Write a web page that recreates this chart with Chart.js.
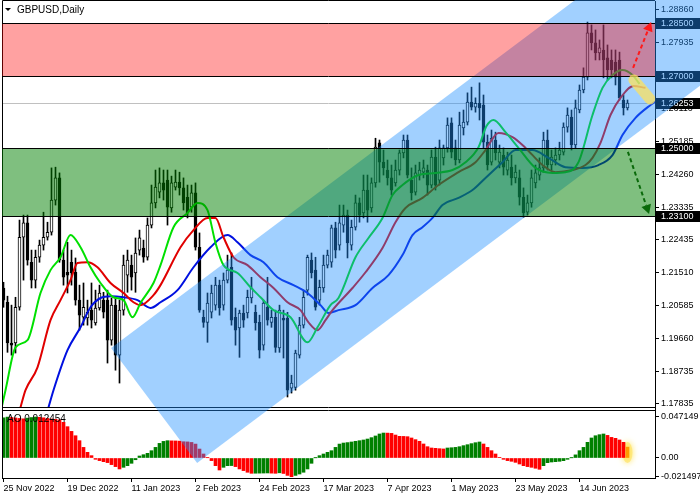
<html>
<head>
    <title>GBPUSD,Daily</title>
    <style>
        body {
            margin: 0;
            background: #fff;
        }
    </style>
    <script src="https://cdn.jsdelivr.net/npm/chart.js"></script>
</head>
<body>
    <canvas id="chart" width="700" height="500"></canvas>
    <script>
        // daily candles, 25 Nov 2022 .. 30 Jun 2023
        var opens = [
            1.2108, 1.2068, 1.1954, 1.1954, 1.2054, 1.2250, 1.2290, 1.2180, 1.2130, 1.2194,
            1.2228, 1.2250, 1.2264, 1.2354, 1.2416, 1.2186, 1.2152, 1.2180, 1.2152, 1.2074,
            1.2026, 1.2024, 1.2046, 1.2010, 1.2052, 1.2074, 1.2074, 1.1962, 1.2060, 1.1920,
            1.2046, 1.2144, 1.2172, 1.2150, 1.2214, 1.2220, 1.2194, 1.2284, 1.2346, 1.2376,
            1.2402, 1.2410, 1.2332, 1.2390, 1.2404, 1.2388, 1.2362, 1.2334, 1.2374, 1.2222,
            1.2026, 1.2012, 1.2040, 1.2060, 1.2116, 1.2060, 1.2130, 1.2166, 1.2026, 1.1996,
            1.2038, 1.2038, 1.2080, 1.2040, 1.2012, 1.1948, 1.2054, 1.2012, 1.2026, 1.1940,
            1.2024, 1.2024, 1.1828, 1.1830, 1.1920, 1.2004, 1.2102, 1.2186, 1.2158, 1.2074,
            1.2108, 1.2172, 1.2180, 1.2276, 1.2228, 1.2284, 1.2312, 1.2228, 1.2278, 1.2346,
            1.2318, 1.2382, 1.2332, 1.2402, 1.2514, 1.2460, 1.2438, 1.2416, 1.2402, 1.2438,
            1.2486, 1.2522, 1.2410, 1.2376, 1.2424, 1.2432, 1.2438, 1.2396, 1.2474, 1.2410,
            1.2472, 1.2500, 1.2570, 1.2500, 1.2466, 1.2556, 1.2572, 1.2628, 1.2614, 1.2625,
            1.2620, 1.2516, 1.2460, 1.2522, 1.2460, 1.2480, 1.2438, 1.2446, 1.2416, 1.2416,
            1.2362, 1.2320, 1.2346, 1.2402, 1.2424, 1.2444, 1.2522, 1.2452, 1.2466, 1.2480,
            1.2488, 1.2558, 1.2586, 1.2508, 1.2606, 1.2662, 1.2698, 1.2822, 1.2794, 1.2766,
            1.2774, 1.2752, 1.2746, 1.2740, 1.2746, 1.2634, 1.2612
        ];
        var highs = [
            1.2124, 1.2085, 1.2060, 1.2082, 1.2298, 1.2312, 1.2312, 1.2214, 1.2214, 1.2242,
            1.2320, 1.2292, 1.2444, 1.2446, 1.2430, 1.2214, 1.2236, 1.2214, 1.2192, 1.2116,
            1.2122, 1.2074, 1.2122, 1.2102, 1.2116, 1.2096, 1.2102, 1.2080, 1.2082, 1.2074,
            1.2200, 1.2214, 1.2200, 1.2248, 1.2270, 1.2242, 1.2304, 1.2396, 1.2438, 1.2444,
            1.2438, 1.2438, 1.2421, 1.2438, 1.2432, 1.2416, 1.2396, 1.2396, 1.2402, 1.2262,
            1.2046, 1.2094, 1.2116, 1.2138, 1.2130, 1.2150, 1.2200, 1.2206, 1.2052, 1.2046,
            1.2060, 1.2102, 1.2138, 1.2060, 1.2032, 1.2074, 1.2138, 1.2046, 1.2046, 1.2060,
            1.2046, 1.2040, 1.1864, 1.1934, 1.2026, 1.2102, 1.2200, 1.2206, 1.2194, 1.2130,
            1.2200, 1.2214, 1.2284, 1.2292, 1.2340, 1.2340, 1.2326, 1.2298, 1.2368, 1.2360,
            1.2424, 1.2424, 1.2416, 1.2527, 1.2522, 1.2494, 1.2466, 1.2452, 1.2466, 1.2494,
            1.2536, 1.2536, 1.2444, 1.2452, 1.2460, 1.2466, 1.2452, 1.2494, 1.2502, 1.2522,
            1.2508, 1.2584, 1.2584, 1.2522, 1.2600, 1.2606, 1.2654, 1.2670, 1.2640, 1.2682,
            1.2648, 1.2536, 1.2550, 1.2544, 1.2508, 1.2500, 1.2488, 1.2480, 1.2452, 1.2438,
            1.2388, 1.2368, 1.2438, 1.2452, 1.2472, 1.2544, 1.2550, 1.2494, 1.2500, 1.2516,
            1.2570, 1.2612, 1.2606, 1.2634, 1.2676, 1.2724, 1.2852, 1.2844, 1.2830, 1.2802,
            1.2844, 1.2788, 1.2774, 1.2774, 1.2768, 1.2648, 1.2634
        ];
        var lows = [
            1.2054, 1.1928, 1.1920, 1.1926, 1.2046, 1.2130, 1.2172, 1.2108, 1.2108, 1.2180,
            1.2214, 1.2242, 1.2256, 1.2340, 1.2180, 1.2116, 1.2094, 1.2116, 1.2060, 1.1990,
            1.2004, 1.2004, 1.1996, 1.2004, 1.2046, 1.2024, 1.1898, 1.1948, 1.1878, 1.1842,
            1.2032, 1.2096, 1.2102, 1.2096, 1.2200, 1.2180, 1.2186, 1.2276, 1.2332, 1.2360,
            1.2354, 1.2284, 1.2320, 1.2382, 1.2368, 1.2326, 1.2304, 1.2320, 1.2214, 1.2040,
            1.1998, 1.1956, 1.2024, 1.2046, 1.2032, 1.2046, 1.2122, 1.2004, 1.1948, 1.1914,
            1.1998, 1.2024, 1.2066, 1.1990, 1.1912, 1.1934, 1.2004, 1.1998, 1.1928, 1.1928,
            1.1912, 1.1803, 1.1814, 1.1822, 1.1912, 1.1996, 1.2088, 1.2136, 1.2046, 1.2060,
            1.2096, 1.2164, 1.2166, 1.2192, 1.2214, 1.2264, 1.2192, 1.2214, 1.2270, 1.2292,
            1.2304, 1.2292, 1.2320, 1.2390, 1.2404, 1.2424, 1.2396, 1.2368, 1.2393, 1.2424,
            1.2472, 1.2416, 1.2354, 1.2368, 1.2410, 1.2416, 1.2368, 1.2388, 1.2382, 1.2396,
            1.2452, 1.2488, 1.2472, 1.2452, 1.2458, 1.2536, 1.2564, 1.2606, 1.2600, 1.2578,
            1.2500, 1.2438, 1.2452, 1.2466, 1.2444, 1.2424, 1.2424, 1.2396, 1.2402, 1.2340,
            1.2306, 1.2312, 1.2334, 1.2388, 1.2410, 1.2432, 1.2438, 1.2438, 1.2452, 1.2466,
            1.2480, 1.2544, 1.2494, 1.2500, 1.2598, 1.2654, 1.2690, 1.2774, 1.2746, 1.2746,
            1.2696, 1.2690, 1.2696, 1.2676, 1.2634, 1.2592, 1.2606
        ];
        var closes = [
            1.2074, 1.1954, 1.1948, 1.2054, 1.2250, 1.2290, 1.2186, 1.2130, 1.2194, 1.2228,
            1.2250, 1.2264, 1.2354, 1.2416, 1.2186, 1.2138, 1.2144, 1.2150, 1.2074, 1.2032,
            1.2054, 1.2040, 1.2018, 1.2052, 1.2094, 1.2040, 1.1962, 1.2060, 1.1920, 1.2046,
            1.2172, 1.2186, 1.2138, 1.2206, 1.2248, 1.2194, 1.2284, 1.2346, 1.2390, 1.2402,
            1.2382, 1.2334, 1.2402, 1.2404, 1.2388, 1.2346, 1.2318, 1.2374, 1.2222, 1.2046,
            1.2012, 1.2066, 1.2094, 1.2116, 1.2052, 1.2130, 1.2158, 1.2018, 1.1990, 1.2038,
            1.2018, 1.2082, 1.2108, 1.2010, 1.1934, 1.2066, 1.2018, 1.2026, 1.1942, 1.2046,
            1.2018, 1.1822, 1.1842, 1.1926, 1.2004, 1.2082, 1.2194, 1.2150, 1.2054, 1.2110,
            1.2172, 1.2200, 1.2276, 1.2214, 1.2290, 1.2312, 1.2234, 1.2278, 1.2346, 1.2312,
            1.2382, 1.2326, 1.2402, 1.2502, 1.2460, 1.2444, 1.2416, 1.2382, 1.2438, 1.2486,
            1.2522, 1.2424, 1.2374, 1.2430, 1.2438, 1.2444, 1.2396, 1.2474, 1.2396, 1.2500,
            1.2500, 1.2564, 1.2488, 1.2466, 1.2564, 1.2572, 1.2628, 1.2614, 1.2625, 1.2612,
            1.2516, 1.2452, 1.2527, 1.2486, 1.2488, 1.2446, 1.2466, 1.2416, 1.2432, 1.2362,
            1.2318, 1.2346, 1.2416, 1.2430, 1.2444, 1.2522, 1.2452, 1.2474, 1.2480, 1.2494,
            1.2558, 1.2592, 1.2508, 1.2612, 1.2662, 1.2698, 1.2822, 1.2794, 1.2766, 1.2780,
            1.2746, 1.2718, 1.2718, 1.2698, 1.2640, 1.2612, 1.26253
        ];

        // awesome oscillator, one value per candle
        var aoValues = [
            0.0462, 0.0470, 0.0466, 0.0460, 0.0455, 0.0450, 0.0458, 0.0465, 0.0471, 0.0468,
            0.0462, 0.0455, 0.0449, 0.0445, 0.0438, 0.0410, 0.0360, 0.0306, 0.0256, 0.0199,
            0.0122, 0.0065, 0.0027, -0.0015, -0.0030, -0.0042, -0.0053, -0.0076, -0.0099, -0.0126,
            -0.0107, -0.0088, -0.0061, -0.0020, 0.0023, 0.0038, 0.0054, 0.0084, 0.0122, 0.0168,
            0.0191, 0.0199, 0.0197, 0.0196, 0.0194, 0.0187, 0.0185, 0.0179, 0.0160, 0.0103,
            0.0046, 0.0003, -0.0030, -0.0088, -0.0138, -0.0107, -0.0088, -0.0087, -0.0099, -0.0126,
            -0.0145, -0.0164, -0.0176, -0.0175, -0.0174, -0.0173, -0.0172, -0.0174, -0.0176, -0.0170,
            -0.0178, -0.0200, -0.0215, -0.0200, -0.0184, -0.0164, -0.0126, -0.0061, 0.0002, 0.0027,
            0.0046, 0.0065, 0.0084, 0.0122, 0.0160, 0.0172, 0.0177, 0.0184, 0.0192, 0.0199,
            0.0207, 0.0218, 0.0234, 0.0253, 0.0276, 0.0287, 0.0286, 0.0283, 0.0264, 0.0249,
            0.0248, 0.0245, 0.0230, 0.0211, 0.0192, 0.0161, 0.0130, 0.0115, 0.0111, 0.0107,
            0.0104, 0.0115, 0.0118, 0.0122, 0.0130, 0.0142, 0.0153, 0.0165, 0.0176, 0.0184,
            0.0161, 0.0122, 0.0084, 0.0046, 0.0008, -0.0015, -0.0030, -0.0038, -0.0050, -0.0069,
            -0.0088, -0.0099, -0.0107, -0.0118, -0.0130, -0.0088, -0.0054, -0.0046, -0.0042, -0.0038,
            -0.0031, -0.0015, 0.0002, 0.0036, 0.0084, 0.0122, 0.0180, 0.0230, 0.0256, 0.0268,
            0.0276, 0.0260, 0.0237, 0.0226, 0.0207, 0.0180, 0.0125
        ];

        // alligator lines (bar position, price)
        var lipsX = [-0.5, 0.5, 3, 6, 9.25, 11.75, 14.25, 16.75, 19.25, 21.75, 24.25, 27.5, 30, 32.25, 34.25,
            37.5, 39.25, 42.5, 46, 48.5, 51, 53, 55, 58.5, 61.75, 64.25, 67.5, 71.75, 76, 78.5,
            81.75, 83.75, 88, 91.25, 94.75, 97.25, 99.75, 103.75, 108, 112.25, 115.5, 118.75, 120.75, 122.5, 125.5,
            128.75, 133, 137.25, 140.5, 143.75, 147.25, 149.75, 152.25, 154.75, 157.25, 159];
        var lipsY = [1.1772, 1.1822, 1.1942, 1.1962, 1.2094, 1.2158, 1.2194, 1.2256, 1.2222, 1.2166, 1.2122, 1.2082, 1.2074, 1.2026, 1.2066,
            1.2122, 1.2172, 1.2278, 1.2318, 1.2346, 1.2326, 1.2234, 1.2172, 1.2150, 1.2110, 1.2082, 1.2046, 1.2026, 1.1956, 1.1998,
            1.2060, 1.2080, 1.2194, 1.2248, 1.2304, 1.2368, 1.2396, 1.2424, 1.2430, 1.2438, 1.2460, 1.2502, 1.2561, 1.2578, 1.2544,
            1.2500, 1.2444, 1.2430, 1.2432, 1.2460, 1.2592, 1.2668, 1.2704, 1.2718, 1.2704, 1.2679];
        var teethX = [4.25, 5.5, 8.5, 11.75, 14.25, 16.75, 18.5, 21, 23.5, 26.75, 30, 32.5, 34.25, 37.5, 39.25,
            44.25, 47.5, 51, 53, 55, 57.5, 61, 64.25, 67.5, 71, 74.25, 76.25, 78.5, 80.5, 82.25,
            87.25, 90.5, 94.75, 98, 100.5, 104.75, 108.75, 113.75, 118, 120.5, 123.75, 127.25, 130.5, 134.75, 138,
            142.25, 145.5, 147.25, 149.25, 151.75, 154.25, 157.5, 160.5];
        var teethY = [1.1774, 1.1822, 1.1886, 1.2018, 1.2074, 1.2130, 1.2178, 1.2180, 1.2166, 1.2122, 1.2094, 1.2068, 1.2060, 1.2088, 1.2116,
            1.2222, 1.2270, 1.2304, 1.2304, 1.2250, 1.2194, 1.2172, 1.2138, 1.2108, 1.2068, 1.2046, 1.2012, 1.1990, 1.2018, 1.2046,
            1.2108, 1.2152, 1.2220, 1.2292, 1.2332, 1.2360, 1.2396, 1.2432, 1.2460, 1.2494, 1.2542, 1.2530, 1.2500, 1.2452, 1.2432,
            1.2438, 1.2452, 1.2472, 1.2514, 1.2592, 1.2640, 1.2673, 1.2668];
        var jawX = [11.25, 12.5, 16, 19.25, 21.75, 24.25, 26.75, 30, 33.5, 36.75, 39.25, 43.5, 47.5, 51.75, 56,
            58.5, 61.75, 65, 68.5, 72.5, 76, 79.25, 81.25, 83.75, 88, 92.25, 96.25, 99.75, 102.25, 104.75,
            107.25, 109.75, 113.75, 117.25, 120.5, 124.75, 128, 132.25, 136.25, 140.5, 144.75, 148.75, 152.25, 154.75, 158,
            161.75, 164.25];
        var jawY = [1.1774, 1.1822, 1.1934, 1.1998, 1.2054, 1.2080, 1.2085, 1.2082, 1.2074, 1.2052, 1.2068, 1.2102, 1.2166, 1.2222, 1.2256,
            1.2236, 1.2200, 1.2180, 1.2138, 1.2116, 1.2094, 1.2060, 1.2038, 1.2046, 1.2060, 1.2108, 1.2144, 1.2200, 1.2256, 1.2278,
            1.2304, 1.2340, 1.2360, 1.2382, 1.2416, 1.2460, 1.2494, 1.2494, 1.2472, 1.2446, 1.2444, 1.2452, 1.2480, 1.2536, 1.2584,
            1.2620, 1.2640];

        var dateLabels = ['25 Nov 2022', '19 Dec 2022', '11 Jan 2023', '2 Feb 2023', '24 Feb 2023',
            '17 Mar 2023', '7 Apr 2023', '1 May 2023', '23 May 2023', '14 Jun 2023'];
        var priceLabels = ['1.28860', '1.27935', '1.27010', '1.26110', '1.25185', '1.24260', '1.23335',
            '1.22435', '1.21510', '1.20585', '1.19660', '1.18735', '1.17835'];
        var aoLabels = ['0.047149', '0.00', '-0.021497'];

        // drawn objects (bar position, price)
        var lastPrice = 1.26253;
        var redZone = [1.2700, 1.2850];
        var greenZone = [1.2310, 1.2500];
        var levelLabels = ['1.28500', '1.27000', '1.26253', '1.25000', '1.23100'];
        var channel = [[26.9, 1.1940], [48.4, 1.1618], [200, 1.2891], [200, 1.3393]];
        var upArrow = [[157.4, 1.2724], [161.9, 1.2852]];
        var downArrow = [[156.1, 1.2489], [161.4, 1.2315]];
        var highlight = [[157.6, 1.2690], [161.6, 1.2637]];

        var FAMILY = '"Liberation Sans", Arial, sans-serif';

        function xy(xs, ys) {
            return xs.map(function (v, i) { return { x: v, y: ys[i] }; });
        }

        function noPad(s) {
            s.paddingTop = 0;
            s.paddingBottom = 0;
            s.paddingLeft = 0;
            s.paddingRight = 0;
        }

        function drawArrow(ctx, x, y, pts, color) {
            var x1 = x.getPixelForValue(pts[0][0]), y1 = y.getPixelForValue(pts[0][1]);
            var x2 = x.getPixelForValue(pts[1][0]), y2 = y.getPixelForValue(pts[1][1]);
            var ang = Math.atan2(y2 - y1, x2 - x1);
            var bx = x2 - 9 * Math.cos(ang), by = y2 - 9 * Math.sin(ang);
            ctx.save();
            ctx.strokeStyle = color;
            ctx.fillStyle = color;
            ctx.lineWidth = 2;
            ctx.setLineDash([4, 3]);
            ctx.beginPath();
            ctx.moveTo(x1, y1);
            ctx.lineTo(bx, by);
            ctx.stroke();
            ctx.setLineDash([]);
            ctx.beginPath();
            ctx.moveTo(x2, y2);
            ctx.lineTo(bx + 5 * Math.sin(ang), by - 5 * Math.cos(ang));
            ctx.lineTo(bx - 5 * Math.sin(ang), by + 5 * Math.cos(ang));
            ctx.closePath();
            ctx.fill();
            ctx.restore();
        }

        var overlay = {
            id: 'overlay',
            beforeDatasetsDraw: function (chart) {
                var ctx = chart.ctx, x = chart.scales.x, y = chart.scales.y, ao = chart.scales.yao;
                var py = Math.round(y.getPixelForValue(lastPrice)) + 0.5;
                ctx.save();
                ctx.strokeStyle = '#c0c0c0';
                ctx.lineWidth = 1;
                ctx.beginPath();
                ctx.moveTo(x.left, py);
                ctx.lineTo(x.right, py);
                ctx.stroke();
                // glow round the last oscillator bar
                var last = aoValues.length - 1;
                var gx = x.getPixelForValue(last);
                var gTop = ao.getPixelForValue(aoValues[last]);
                var gBot = ao.getPixelForValue(0);
                ctx.shadowColor = 'rgba(255,215,0,1)';
                ctx.shadowBlur = 6;
                ctx.fillStyle = 'rgba(255,225,90,0.6)';
                ctx.beginPath();
                ctx.ellipse(gx, (gTop + gBot) / 2, 5, (gBot - gTop) / 2 + 5, 0, 0, Math.PI * 2);
                ctx.fill();
                ctx.restore();
            },
            afterDraw: function (chart) {
                var ctx = chart.ctx, a = chart.chartArea;
                var x = chart.scales.x, y = chart.scales.y, ao = chart.scales.yao;
                var priceBottom = Math.round(y.bottom) - 2;
                var aoTop = Math.round(ao.top) + 2;
                ctx.save();

                // panel frames
                ctx.fillStyle = '#fff';
                ctx.fillRect(a.left, priceBottom, a.right - a.left, aoTop - priceBottom);
                ctx.strokeStyle = '#000';
                ctx.lineWidth = 1;
                ctx.beginPath();
                ctx.moveTo(a.left + 0.5, a.top - 0.5);
                ctx.lineTo(a.right, a.top - 0.5);
                ctx.moveTo(a.left + 0.5, a.top - 0.5);
                ctx.lineTo(a.left + 0.5, a.bottom);
                ctx.moveTo(a.left, priceBottom + 0.5);
                ctx.lineTo(a.right, priceBottom + 0.5);
                ctx.moveTo(a.left, aoTop - 0.5);
                ctx.lineTo(a.right, aoTop - 0.5);
                ctx.stroke();

                // title and indicator label
                ctx.fillStyle = '#000';
                ctx.beginPath();
                ctx.moveTo(5, 8);
                ctx.lineTo(11, 8);
                ctx.lineTo(8, 11);
                ctx.closePath();
                ctx.fill();
                ctx.font = '10px ' + FAMILY;
                ctx.textBaseline = 'middle';
                ctx.textAlign = 'left';
                ctx.fillText('GBPUSD,Daily', 17, 10);
                ctx.fillText('AO 0.012454', 7, aoTop + 8);

                // price labels of the drawn levels
                ctx.font = '9px ' + FAMILY;
                var levels = [redZone[1], redZone[0], lastPrice, greenZone[1], greenZone[0]];
                levels.forEach(function (v, k) {
                    var py = Math.round(y.getPixelForValue(v));
                    ctx.fillStyle = '#000';
                    ctx.fillRect(a.right + 1, py - 5, 44, 11);
                    ctx.fillStyle = '#fff';
                    ctx.fillText(levelLabels[k], a.right + 6, py + 0.5);
                });

                // rising channel, spread over the whole window
                ctx.fillStyle = 'rgba(30,144,255,0.42)';
                ctx.beginPath();
                channel.forEach(function (p, k) {
                    var px = x.getPixelForValue(p[0]), py = y.getPixelForValue(p[1]);
                    if (k === 0) ctx.moveTo(px, py); else ctx.lineTo(px, py);
                });
                ctx.closePath();
                ctx.fill();

                // supply / demand zones
                ctx.save();
                ctx.beginPath();
                ctx.rect(a.left, a.top, a.right - a.left, priceBottom - a.top);
                ctx.clip();
                [[redZone, 'rgba(255,0,0,0.37)'], [greenZone, 'rgba(0,128,0,0.5)']].forEach(function (z) {
                    var top = Math.round(y.getPixelForValue(z[0][1]));
                    var bot = Math.round(y.getPixelForValue(z[0][0]));
                    ctx.fillStyle = z[1];
                    ctx.fillRect(a.left, top, a.right - a.left, bot - top);
                    ctx.strokeStyle = '#000';
                    ctx.beginPath();
                    ctx.moveTo(a.left, top + 0.5);
                    ctx.lineTo(a.right, top + 0.5);
                    ctx.moveTo(a.left, bot + 0.5);
                    ctx.lineTo(a.right, bot + 0.5);
                    ctx.stroke();
                });

                // marker on the lips line
                ctx.strokeStyle = 'rgba(252,225,95,0.75)';
                ctx.lineWidth = 11;
                ctx.lineCap = 'round';
                ctx.beginPath();
                ctx.moveTo(x.getPixelForValue(highlight[0][0]), y.getPixelForValue(highlight[0][1]));
                ctx.lineTo(x.getPixelForValue(highlight[1][0]), y.getPixelForValue(highlight[1][1]));
                ctx.stroke();
                ctx.restore();

                drawArrow(ctx, x, y, upArrow, '#ff1a1a');
                drawArrow(ctx, x, y, downArrow, '#0a6a0a');
                ctx.restore();
            }
        };

        var lineClip = { left: 0, top: 0, right: 0, bottom: -2 };

        var ctx = document.getElementById('chart').getContext('2d');
        var chart = new Chart(ctx, {
            type: 'bar',
            data: {
                datasets: [
                    {
                        type: 'line', label: 'Lips', data: xy(lipsX, lipsY), yAxisID: 'y',
                        borderColor: '#00e000', borderWidth: 2, pointRadius: 0,
                        cubicInterpolationMode: 'monotone', order: 0, clip: lineClip
                    },
                    {
                        type: 'line', label: 'Teeth', data: xy(teethX, teethY), yAxisID: 'y',
                        borderColor: '#e00000', borderWidth: 2, pointRadius: 0,
                        cubicInterpolationMode: 'monotone', order: 0, clip: lineClip
                    },
                    {
                        type: 'line', label: 'Jaw', data: xy(jawX, jawY), yAxisID: 'y',
                        borderColor: '#0010e0', borderWidth: 2, pointRadius: 0,
                        cubicInterpolationMode: 'monotone', order: 0, clip: lineClip
                    },
                    {
                        label: 'body', yAxisID: 'y', order: 1,
                        data: opens.map(function (o, i) { return { x: i, y: [o, closes[i]] }; }),
                        backgroundColor: function (c) {
                            var i = c.dataIndex;
                            return closes[i] >= opens[i] ? '#ffffff' : '#000000';
                        },
                        borderColor: '#000', borderWidth: 1, borderSkipped: false,
                        barThickness: 3, minBarLength: 1, grouped: false
                    },
                    {
                        label: 'wick', yAxisID: 'y', order: 2,
                        data: lows.map(function (l, i) { return { x: i, y: [l, highs[i]] }; }),
                        backgroundColor: '#000', borderWidth: 0,
                        barThickness: 1, grouped: false
                    },
                    {
                        label: 'AO', yAxisID: 'yao', order: 3,
                        data: aoValues.map(function (v, i) { return { x: i, y: v }; }),
                        backgroundColor: function (c) {
                            var i = c.dataIndex;
                            if (i === aoValues.length - 1) return '#ff9a00';
                            if (i > 0 && aoValues[i] < aoValues[i - 1]) return '#ff0000';
                            return '#008000';
                        },
                        borderWidth: 0, barThickness: 3, grouped: false
                    }
                ]
            },
            options: {
                responsive: false,
                animation: false,
                events: [],
                layout: { padding: { left: 2, top: 1, right: 0, bottom: 0 } },
                plugins: { legend: { display: false }, tooltip: { enabled: false } },
                scales: {
                    x: {
                        type: 'linear', min: -0.375, max: 162.875, offset: false,
                        afterBuildTicks: function (s) {
                            s.ticks = dateLabels.map(function (t, k) { return { value: k * 16 }; });
                        },
                        afterFit: function (s) { s.height = 22; noPad(s); },
                        ticks: {
                            autoSkip: false, maxRotation: 0, align: 'start', padding: 1,
                            color: '#000', font: { family: FAMILY, size: 9 },
                            callback: function (v) { return dateLabels[Math.round(v / 16)]; }
                        },
                        grid: { offset: false, drawOnChartArea: false, drawTicks: true, tickLength: 4, color: '#000' },
                        border: { display: true, color: '#000' }
                    },
                    y: {
                        type: 'linear', position: 'right', stack: 'panes', stackWeight: 408,
                        min: 1.17694, max: 1.2911,
                        afterBuildTicks: function (s) {
                            s.ticks = priceLabels.map(function (t) { return { value: parseFloat(t) }; });
                        },
                        afterFit: function (s) { s.width = 45; noPad(s); },
                        ticks: {
                            autoSkip: false, padding: 2, color: '#000',
                            font: { family: FAMILY, size: 9 },
                            callback: function (v, i) { return priceLabels[i]; }
                        },
                        grid: { drawOnChartArea: false, drawTicks: true, tickLength: 4, color: '#000' },
                        border: { display: true, color: '#000' }
                    },
                    yao: {
                        type: 'linear', position: 'right', stack: 'panes', stackWeight: 69,
                        min: -0.02299, max: 0.05632,
                        afterBuildTicks: function (s) {
                            s.ticks = aoLabels.map(function (t) { return { value: parseFloat(t) }; });
                        },
                        afterFit: function (s) { s.width = 45; noPad(s); },
                        ticks: {
                            autoSkip: false, padding: 2, color: '#000',
                            font: { family: FAMILY, size: 9 },
                            callback: function (v, i) { return aoLabels[i]; }
                        },
                        grid: { drawOnChartArea: false, drawTicks: true, tickLength: 4, color: '#000' },
                        border: { display: true, color: '#000' }
                    }
                }
            },
            plugins: [overlay]
        });
    </script>
</body>
</html>
